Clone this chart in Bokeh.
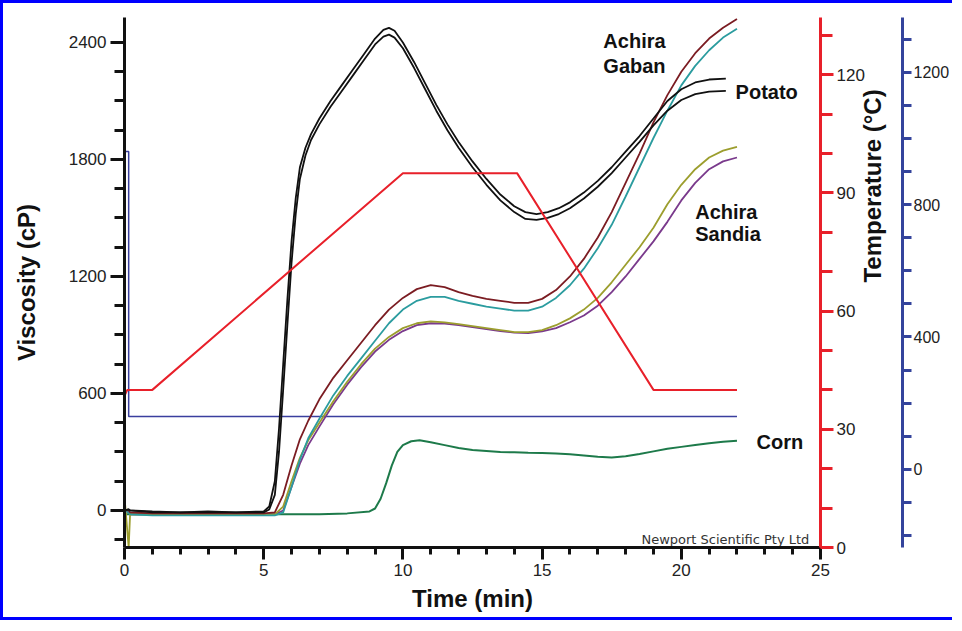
import math
from bokeh.plotting import figure
from bokeh.models import Range1d, LinearAxis, FixedTicker
from bokeh.core.properties import value
from bokeh.embed import file_html
from bokeh.resources import INLINE

# ---------------- data ----------------
# Potato (two replicates)
t_potato = [0, 0.15, 0.2, 1, 2, 3, 4, 5, 5.2, 5.4, 5.55, 5.7, 5.85, 6.0, 6.15, 6.3, 6.5, 6.7,
            7.0, 7.4, 7.8, 8.2, 8.6, 9.0, 9.3, 9.5, 9.7, 10.0, 10.4, 10.8, 11.2, 11.6, 12.0,
            12.5, 13.0, 13.5, 14.0, 14.4, 14.8, 15.2, 15.6, 16.0, 16.5, 17.0, 17.5, 18.0,
            18.5, 19.0, 19.5, 20.0, 20.5, 21.0, 21.6]
potato_a = [0, 5, 0, -5, -10, -5, -10, -5, 20, 150, 420, 750, 1080, 1380, 1600, 1760, 1860, 1930,
            2010, 2100, 2180, 2260, 2340, 2420, 2465, 2475, 2460, 2400, 2300, 2190, 2080, 1980, 1890,
            1790, 1700, 1620, 1560, 1530, 1520, 1530, 1550, 1580, 1630, 1690, 1760, 1840,
            1920, 2010, 2100, 2160, 2195, 2210, 2215]
potato_b = [0, 5, 0, -10, -10, -10, -10, -10, 5, 80, 300, 620, 950, 1270, 1520, 1700, 1820, 1900,
            1980, 2070, 2150, 2230, 2310, 2390, 2430, 2440, 2425, 2370, 2270, 2160, 2050, 1950, 1860,
            1760, 1670, 1590, 1530, 1495, 1490, 1500, 1520, 1550, 1600, 1660, 1730, 1810,
            1890, 1975, 2050, 2105, 2135, 2148, 2152]

# Achira (Gaban and Sandia, two curves each)
t_achira = [0, 0.15, 0.2, 1, 2, 3, 4, 5, 5.4, 5.7, 6.0, 6.3, 6.6, 7.0, 7.5, 8.0, 8.5, 9.0, 9.5,
            10.0, 10.5, 11.0, 11.5, 12.0, 12.5, 13.0, 13.5, 14.0, 14.5, 15.0, 15.5, 16.0, 16.5,
            17.0, 17.5, 18.0, 18.5, 19.0, 19.5, 20.0, 20.5, 21.0, 21.5, 22.0]
gaban_1 = [0, 0, -10, -15, -15, -15, -15, -15, -10, 80, 230, 365, 460, 570, 680, 770, 860, 950, 1030,
           1090, 1135, 1155, 1145, 1120, 1100, 1085, 1075, 1065, 1065, 1085, 1130, 1200, 1290,
           1400, 1530, 1680, 1830, 1990, 2130, 2250, 2345, 2420, 2475, 2520]
gaban_2 = [0, -10, -20, -25, -25, -25, -25, -25, -25, -10, 120, 260, 370, 470, 590, 690, 780, 870, 960,
           1030, 1075, 1095, 1095, 1075, 1060, 1045, 1035, 1025, 1025, 1045, 1090, 1155, 1240,
           1345, 1465, 1610, 1760, 1910, 2050, 2180, 2280, 2360, 2425, 2470]
sandia_1 = [70, -190, -20, -20, -20, -20, -20, -20, -20, 20, 150, 270, 360, 450, 560, 660, 750, 830, 890,
            935, 960, 970, 965, 955, 945, 935, 925, 915, 915, 925, 950, 985, 1030,
            1090, 1170, 1260, 1350, 1450, 1570, 1670, 1750, 1810, 1845, 1865]
sandia_2 = [0, -10, -20, -20, -20, -20, -20, -20, -20, 0, 120, 240, 335, 430, 545, 645, 735, 815, 875,
            920, 950, 960, 958, 950, 940, 930, 920, 912, 910, 918, 935, 965, 1000,
            1050, 1120, 1200, 1290, 1380, 1480, 1590, 1680, 1750, 1790, 1810]

# Corn
t_corn = [0, 1, 2, 3, 4, 5, 6, 7, 8, 8.8, 9.0, 9.2, 9.4, 9.6, 9.8, 10.0, 10.3, 10.6, 11.0, 11.5,
          12.0, 12.5, 13.0, 13.5, 14.0, 14.5, 15.0, 15.5, 16.0, 16.5, 17.0, 17.5, 18.0, 18.5,
          19.0, 19.5, 20.0, 20.5, 21.0, 21.5, 22.0]
corn = [-20, -20, -20, -20, -20, -20, -20, -20, -15, -5, 10, 60, 140, 230, 300, 335, 355, 360, 350, 335,
        320, 310, 305, 300, 298, 296, 295, 292, 288, 282, 275, 272, 278, 290,
        303, 316, 326, 336, 345, 352, 358]

# Temperature profile (°C)
t_temp = [0, 0.1, 1.0, 10.0, 14.1, 19.0, 22.0]
temp = [38.5, 40, 40, 95, 95, 40, 40]

# Paddle speed (rpm)
t_speed = [0, 0.15, 0.15, 22.0]
speed = [960, 960, 160, 160]

# Labels
label_text = ["Achira", "Gaban", "Potato", "Achira", "Sandia", "Corn"]
label_x = [17.2, 17.2, 21.95, 20.5, 20.5, 22.7]
label_y = [2410, 2280, 2145, 1530, 1420, 350]

x_ticks = [0, 5, 10, 15, 20, 25]
visc_ticks = [0, 600, 1200, 1800, 2400]
temp_ticks = [0, 30, 60, 90, 120]
speed_ticks = [0, 400, 800, 1200]

# ---------------- figure ----------------
FONT = "Liberation Sans"
p = figure(frame_width=696, frame_height=530,
           x_range=Range1d(0, 25), y_range=Range1d(-190, 2528),
           output_backend="svg", toolbar_location=None,
           min_border_left=121, min_border_right=126, min_border_top=14, min_border_bottom=70)
p.extra_y_ranges = {"temp": Range1d(0, 134.5), "speed": Range1d(-236, 1365)}
p.xgrid.visible = False
p.ygrid.visible = False
p.outline_line_color = None
p.background_fill_color = "white"
p.border_fill_color = "white"
p.styles = {"border-top": "3px solid #0000ff", "border-left": "3px solid #0000ff",
            "border-bottom": "3px solid #0000ff", "border-right": "none"}


def style_axis(ax, color, tick_out, minor_out, lab_size="17px"):
    ax.axis_line_color = color
    ax.axis_line_width = 3
    ax.major_tick_line_color = color
    ax.major_tick_line_width = 3
    ax.minor_tick_line_color = color
    ax.minor_tick_line_width = 3
    ax.major_tick_out = tick_out
    ax.major_tick_in = 0
    ax.minor_tick_out = minor_out
    ax.minor_tick_in = 0
    ax.major_label_text_font = FONT
    ax.major_label_text_font_size = lab_size
    ax.major_label_text_color = "#222222"
    ax.axis_label_text_font = FONT
    ax.axis_label_text_font_style = "bold"
    ax.axis_label_text_font_size = "24px"
    ax.axis_label_text_color = "#111111"


# x axis
xa = p.xaxis[0]
xa.ticker = FixedTicker(ticks=x_ticks, minor_ticks=[i for i in range(0, 26) if i % 5])
xa.axis_label = "Time (min)"
style_axis(xa, "#111111", 12, 7)
xa.major_label_standoff = 4
xa.axis_label_standoff = 6

# viscosity axis
ya = p.yaxis[0]
ya.ticker = FixedTicker(ticks=visc_ticks,
                        minor_ticks=[v for v in range(-150, 2401, 150) if v % 600])
ya.axis_label = "Viscosity (cP)"
style_axis(ya, "#111111", 14, 10)
ya.major_label_standoff = 4
ya.axis_label_standoff = 26

# temperature axis
ta = LinearAxis(y_range_name="temp", axis_label="Temperature (°C)",
                ticker=FixedTicker(ticks=temp_ticks,
                                   minor_ticks=[v for v in range(10, 131, 10) if v % 30]))
style_axis(ta, "#e8202a", 13, 12)
ta.major_label_standoff = 3
ta.axis_label_standoff = 5
ta.axis_label_orientation = math.pi / 2
p.add_layout(ta, "right")

# speed axis
sa = LinearAxis(y_range_name="speed",
                ticker=FixedTicker(ticks=speed_ticks,
                                   minor_ticks=[v for v in range(-200, 1301, 100) if v % 400]))
style_axis(sa, "#34449c", 9, 9, "16px")
sa.major_label_standoff = 2
p.add_layout(sa, "right")

# ---------------- lines ----------------
p.line(t_speed, speed, y_range_name="speed", color="#3a3f9e", line_width=1.5)
p.line(t_corn, corn, color="#1d7a4a", line_width=2)
p.line(t_achira, sandia_2, color="#7a3a8c", line_width=1.8)
p.line(t_achira, sandia_1, color="#9c9e2e", line_width=1.8)
p.line(t_achira, gaban_2, color="#2b9c9f", line_width=1.8)
p.line(t_achira, gaban_1, color="#7b1c22", line_width=1.8)
p.line(t_potato, potato_b, color="#111111", line_width=1.8)
p.line(t_potato, potato_a, color="#111111", line_width=1.8)
p.line(t_temp, temp, y_range_name="temp", color="#e8202a", line_width=2)

# ---------------- labels ----------------
p.text(x=label_x, y=label_y, text=label_text, text_font=value(FONT), text_font_style="bold",
       text_font_size="20px", text_color="#111111", text_align="left", text_baseline="middle")
p.text(x=[24.6], y=[-186], text=["Newport Scientific Pty Ltd"], text_font=value("DejaVu Sans"),
       text_font_size="13px", text_color="#333333", text_align="right", text_baseline="bottom")

open("out.html", "w").write(file_html(p, INLINE))
